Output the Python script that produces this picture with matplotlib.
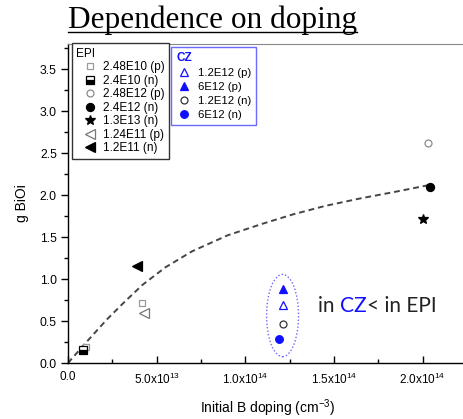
import matplotlib
matplotlib.use("Agg")
import matplotlib.pyplot as plt
from matplotlib.lines import Line2D
from matplotlib.patches import Ellipse
from matplotlib.ticker import MultipleLocator, FixedLocator

# --- data ---
epi_labels = ['2.48E10 (p)', '2.4E10 (n)', '2.48E12 (p)', '2.4E12 (n)',
              '1.3E13 (n)', '1.24E11 (p)', '1.2E11 (n)']
epi_x = [[1.0e13, 4.15e13], [0.86e13], [2.03e14], [2.04e14],
         [2.00e14], [4.3e13], [3.9e13]]
epi_y = [[0.19, 0.72], [0.155], [2.62], [2.09], [1.71], [0.60], [1.15]]

cz_labels = ['1.2E12 (p)', '6E12 (p)', '1.2E12 (n)', '6E12 (n)']
cz_x = [1.21e14, 1.21e14, 1.21e14, 1.19e14]
cz_y = [0.69, 0.88, 0.46, 0.29]

# dashed guide line
fit_x = [0, 1.0e13, 2.2e13, 3.2e13, 4.2e13, 5.5e13, 7.0e13, 9.0e13,
         1.1e14, 1.27e14, 1.45e14, 1.65e14, 1.85e14, 2.04e14]
fit_y = [0, 0.24, 0.52, 0.73, 0.93, 1.14, 1.33, 1.52,
         1.66, 1.77, 1.87, 1.96, 2.04, 2.12]

x_ticks = [0, 5e13, 1e14, 1.5e14, 2e14]
x_ticklabels = ['0.0', r'5.0x10$^{13}$', r'1.0x10$^{14}$', r'1.5x10$^{14}$', r'2.0x10$^{14}$']

BLUE = '#1010ff'
GRAY = '#9a9a9a'

plt.rcParams['font.family'] = ['Liberation Sans', 'DejaVu Sans']
plt.rcParams['mathtext.fontset'] = 'custom'
plt.rcParams['mathtext.rm'] = 'Liberation Sans'

fig = plt.figure(figsize=(4.63, 4.19), dpi=100)
W, H = 463, 419
x0, x1, y0, y1 = 68, 467, 363, 43.8
ax = fig.add_axes([x0 / W, 1 - y0 / H, (x1 - x0) / W, (y0 - y1) / H])

ax.set_xlim(0, 2.25e14)
ax.set_ylim(0, 3.8)

# guide curve
ax.plot(fit_x, fit_y, color='#454545', lw=1.4, dashes=(3.0, 2.0), zorder=1)

# EPI series
epi_style = [
    dict(marker='s', mfc='white', mec=GRAY, ms=5),
    dict(marker='s', mfc='black', mec='black', mfcalt='white', fillstyle='bottom', ms=5.5),
    dict(marker='o', mfc='white', mec='#8a8a8a', ms=5),
    dict(marker='o', mfc='black', mec='black', ms=5.8),
    dict(marker='*', mfc='black', mec='black', ms=7),
    dict(marker='<', mfc='white', mec='#777777', ms=6.5),
    dict(marker='<', mfc='black', mec='black', ms=7.5),
]
epi_handles = []
for lab, xs, ys, st in zip(epi_labels, epi_x, epi_y, epi_style):
    h, = ax.plot(xs, ys, ls='none', mew=0.9, label=lab, zorder=3, **st)
    epi_handles.append(h)

cz_style = [
    dict(marker='^', mfc='white', mec=BLUE, ms=6),
    dict(marker='^', mfc=BLUE, mec=BLUE, ms=6),
    dict(marker='o', mfc='white', mec='#333333', ms=5),
    dict(marker='o', mfc=BLUE, mec=BLUE, ms=5.5),
]
cz_handles = []
for lab, xx, yy, st in zip(cz_labels, cz_x, cz_y, cz_style):
    h, = ax.plot([xx], [yy], ls='none', mew=0.9, label=lab, zorder=3, **st)
    cz_handles.append(h)

# dotted ellipse around the CZ points
ax.add_patch(Ellipse((1.21e14, 0.565), 1.8e13, 0.98, fill=False,
                     ec='#6a6aff', lw=1.0, ls=(0, (1, 1.5)), zorder=2))

# "in CZ< in EPI"
t1 = ax.text(1.41e14, 0.68, 'in ', fontsize=15, family='Lato', va='center', color='#222222')
t2 = ax.annotate('CZ', xy=(1, 0), xycoords=t1, va='bottom', ha='left',
                 fontsize=15, family='Lato', color=BLUE)
t3 = ax.annotate('< in EPI', xy=(1, 0), xycoords=t2, va='bottom', ha='left',
                 fontsize=15, family='Lato', color='#222222')

# axes styling
ax.spines['right'].set_visible(False)
ax.spines['top'].set_color('#888888')
ax.spines['left'].set_linewidth(1.0)
ax.spines['bottom'].set_linewidth(1.0)

ax.xaxis.set_major_locator(FixedLocator(x_ticks))
ax.set_xticklabels(x_ticklabels)
ax.xaxis.set_minor_locator(MultipleLocator(2.5e13))
ax.yaxis.set_major_locator(MultipleLocator(0.5))
ax.yaxis.set_minor_locator(MultipleLocator(0.25))
ax.tick_params(axis='x', which='major', direction='in', length=5, width=1, labelsize=8.5, pad=6)
ax.tick_params(axis='x', which='minor', direction='in', length=3, width=1)
ax.tick_params(axis='y', which='major', direction='out', length=5, width=1, labelsize=8.8, pad=3)
ax.tick_params(axis='y', which='minor', direction='out', length=3, width=1)
ax.yaxis.set_major_formatter(matplotlib.ticker.FormatStrFormatter('%.1f'))

ax.set_xlabel(r'Initial B doping (cm$^{-3}$)', fontsize=10, labelpad=8)
ax.set_ylabel('g BiOi', fontsize=10, labelpad=8)

# legends
leg1 = ax.legend(handles=epi_handles, title='EPI', loc='upper left',
                 bbox_to_anchor=(72 / W, 1 - 43.5 / H), bbox_transform=fig.transFigure,
                 borderaxespad=0, fontsize=8.5, title_fontsize=8.5, alignment='left',
                 frameon=True, fancybox=False, edgecolor='#333333', framealpha=1,
                 borderpad=0.35, handlelength=2.3, handletextpad=-0.05,
                 labelspacing=0.13)
leg1.get_frame().set_linewidth(1.0)
ax.add_artist(leg1)

leg2 = ax.legend(handles=cz_handles, title='CZ', loc='upper left',
                 bbox_to_anchor=(171 / W, 1 - 47 / H), bbox_transform=fig.transFigure,
                 borderaxespad=0, fontsize=8.2, title_fontsize=8.5, alignment='left',
                 frameon=True, fancybox=False, edgecolor='#6a6aff', framealpha=1,
                 borderpad=0.45, handlelength=1.3, handletextpad=0.6,
                 labelspacing=0.35)
leg2.get_frame().set_linewidth(1.0)
leg2.get_title().set_color(BLUE)
leg2.get_title().set_fontweight('bold')

# underlined serif title above the plot
fig.text(68 / W, 1 - 28 / H, 'Dependence on doping', fontsize=22.5,
         family='Liberation Serif', ha='left', va='baseline', color='black')
fig.add_artist(Line2D([68 / W, 357 / W], [1 - 32 / H, 1 - 32 / H],
                      color='black', lw=1.0, transform=fig.transFigure))

fig.savefig('out.png', dpi=100)
